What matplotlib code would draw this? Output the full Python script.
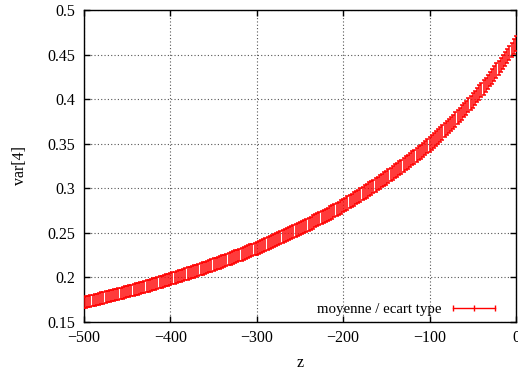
import matplotlib
matplotlib.use("Agg")
from matplotlib import pyplot as plt
from matplotlib.lines import Line2D

# z positions (every 2.5 units) and mean / std of var[4]
z = [-500 + 2.5 * i for i in range(201)]
moyenne = [
    0.1720, 0.1726, 0.1731, 0.1737, 0.1742, 0.1748, 0.1753, 0.1759, 0.1765, 0.1771,
    0.1777, 0.1783, 0.1789, 0.1795, 0.1801, 0.1808, 0.1814, 0.1821, 0.1827, 0.1834,
    0.1840, 0.1847, 0.1853, 0.1860, 0.1866, 0.1873, 0.1880, 0.1887, 0.1894, 0.1901,
    0.1908, 0.1915, 0.1922, 0.1929, 0.1936, 0.1944, 0.1951, 0.1959, 0.1966, 0.1974,
    0.1981, 0.1989, 0.1996, 0.2004, 0.2011, 0.2019, 0.2027, 0.2035, 0.2043, 0.2051,
    0.2059, 0.2067, 0.2075, 0.2083, 0.2091, 0.2100, 0.2108, 0.2117, 0.2125, 0.2134,
    0.2142, 0.2151, 0.2159, 0.2168, 0.2177, 0.2186, 0.2195, 0.2204, 0.2213, 0.2222,
    0.2231, 0.2241, 0.2250, 0.2260, 0.2269, 0.2279, 0.2288, 0.2298, 0.2307, 0.2317,
    0.2327, 0.2338, 0.2348, 0.2359, 0.2369, 0.2380, 0.2391, 0.2402, 0.2413, 0.2424,
    0.2435, 0.2446, 0.2457, 0.2469, 0.2480, 0.2492, 0.2503, 0.2515, 0.2526, 0.2538,
    0.2549, 0.2561, 0.2573, 0.2585, 0.2597, 0.2609, 0.2621, 0.2634, 0.2646, 0.2659,
    0.2671, 0.2684, 0.2696, 0.2709, 0.2722, 0.2735, 0.2748, 0.2762, 0.2775, 0.2790,
    0.2805, 0.2820, 0.2834, 0.2849, 0.2864, 0.2879, 0.2894, 0.2910, 0.2925, 0.2941,
    0.2956, 0.2972, 0.2988, 0.3004, 0.3020, 0.3037, 0.3053, 0.3070, 0.3086, 0.3103,
    0.3120, 0.3137, 0.3154, 0.3172, 0.3189, 0.3207, 0.3225, 0.3243, 0.3261, 0.3280,
    0.3298, 0.3317, 0.3335, 0.3354, 0.3373, 0.3393, 0.3412, 0.3432, 0.3451, 0.3471,
    0.3491, 0.3513, 0.3535, 0.3558, 0.3580, 0.3603, 0.3626, 0.3650, 0.3673, 0.3698,
    0.3722, 0.3747, 0.3772, 0.3798, 0.3823, 0.3850, 0.3876, 0.3904, 0.3931, 0.3959,
    0.3986, 0.4015, 0.4044, 0.4073, 0.4102, 0.4132, 0.4162, 0.4193, 0.4224, 0.4256,
    0.4287, 0.4319, 0.4351, 0.4384, 0.4417, 0.4451, 0.4484, 0.4519, 0.4553, 0.4589,
    0.4625,
]
ecart_type = [
    0.0065, 0.0065, 0.0065, 0.0065, 0.0065, 0.0065, 0.0065, 0.0065, 0.0065, 0.0065,
    0.0065, 0.0065, 0.0065, 0.0065, 0.0065, 0.0065, 0.0065, 0.0065, 0.0065, 0.0065,
    0.0066, 0.0066, 0.0066, 0.0066, 0.0066, 0.0066, 0.0066, 0.0066, 0.0066, 0.0066,
    0.0067, 0.0067, 0.0067, 0.0067, 0.0067, 0.0067, 0.0067, 0.0067, 0.0067, 0.0067,
    0.0068, 0.0068, 0.0068, 0.0068, 0.0068, 0.0068, 0.0068, 0.0068, 0.0068, 0.0068,
    0.0069, 0.0069, 0.0069, 0.0069, 0.0069, 0.0069, 0.0069, 0.0069, 0.0069, 0.0069,
    0.0070, 0.0070, 0.0070, 0.0070, 0.0070, 0.0070, 0.0070, 0.0070, 0.0070, 0.0070,
    0.0071, 0.0071, 0.0071, 0.0071, 0.0071, 0.0071, 0.0071, 0.0071, 0.0071, 0.0071,
    0.0072, 0.0072, 0.0072, 0.0072, 0.0072, 0.0072, 0.0072, 0.0072, 0.0072, 0.0072,
    0.0073, 0.0073, 0.0073, 0.0073, 0.0073, 0.0073, 0.0073, 0.0073, 0.0073, 0.0073,
    0.0074, 0.0074, 0.0074, 0.0074, 0.0074, 0.0074, 0.0074, 0.0074, 0.0074, 0.0074,
    0.0075, 0.0075, 0.0075, 0.0075, 0.0075, 0.0075, 0.0075, 0.0075, 0.0075, 0.0075,
    0.0076, 0.0076, 0.0076, 0.0076, 0.0076, 0.0076, 0.0076, 0.0076, 0.0076, 0.0076,
    0.0077, 0.0077, 0.0077, 0.0077, 0.0077, 0.0077, 0.0077, 0.0077, 0.0077, 0.0077,
    0.0078, 0.0078, 0.0078, 0.0078, 0.0078, 0.0078, 0.0078, 0.0078, 0.0078, 0.0078,
    0.0079, 0.0079, 0.0079, 0.0079, 0.0079, 0.0079, 0.0079, 0.0079, 0.0079, 0.0079,
    0.0080, 0.0080, 0.0080, 0.0080, 0.0080, 0.0080, 0.0080, 0.0080, 0.0080, 0.0080,
    0.0080, 0.0080, 0.0080, 0.0080, 0.0080, 0.0080, 0.0080, 0.0080, 0.0080, 0.0080,
    0.0081, 0.0081, 0.0081, 0.0081, 0.0081, 0.0081, 0.0081, 0.0081, 0.0081, 0.0081,
    0.0082, 0.0082, 0.0082, 0.0082, 0.0082, 0.0082, 0.0082, 0.0082, 0.0082, 0.0082,
    0.0082,
]
xticks = [-500, -400, -300, -200, -100, 0]
xtick_labels = ["\u2212500", "\u2212400", "\u2212300", "\u2212200", "\u2212100", "0"]
yticks = [0.15, 0.2, 0.25, 0.3, 0.35, 0.4, 0.45, 0.5]
ytick_labels = ["0.15", "0.2", "0.25", "0.3", "0.35", "0.4", "0.45", "0.5"]

plt.rcParams["font.family"] = ["Liberation Serif", "DejaVu Serif"]

fig = plt.figure(figsize=(5.18, 3.73), dpi=100)
ax = fig.add_axes([0.162, 0.137, 0.834, 0.836])

ax.errorbar(z, moyenne, yerr=ecart_type, fmt="none", ecolor="red",
            elinewidth=1.1, capsize=1.5, capthick=1.1, zorder=3)

# Formatting plot (gnuplot look).
ax.set_xlim(-500, 0)
ax.set_ylim(0.15, 0.5)
ax.set_xticks(xticks)
ax.set_xticklabels(xtick_labels)
ax.set_yticks(yticks)
ax.set_yticklabels(ytick_labels)
ax.tick_params(axis="both", which="major", labelsize=11.5, direction="in",
               length=4, width=1, top=True, right=True, pad=6)
ax.grid(True, linestyle=(0, (1, 2)), color="#555555", linewidth=0.8)
for s in ax.spines.values():
    s.set_linewidth(1.0)

ax.set_xlabel("z", fontsize=11.5, labelpad=6)
ax.set_ylabel("var[4]", fontsize=11.5, labelpad=14)

handle = Line2D([], [], color="red", linewidth=1.0, marker="|",
                markersize=5, markeredgewidth=1.0)
ax.legend([handle], ["moyenne / ecart type"], loc="lower right", frameon=False,
          markerfirst=False, numpoints=3, handlelength=3.4, fontsize=10.7,
          bbox_to_anchor=(0.975, 0.0), borderaxespad=0, handletextpad=0.5)

plt.savefig("out.png", dpi=100)
